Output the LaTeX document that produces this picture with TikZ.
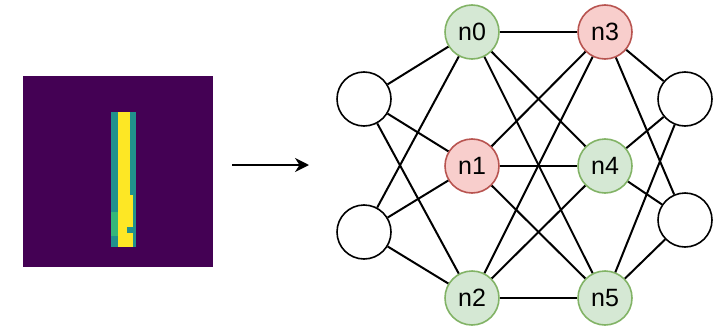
\documentclass[tikz,border=0pt]{standalone}
\usepackage{fontspec}
\setmainfont{Liberation Sans}
\usetikzlibrary{arrows.meta}
\definecolor{vpurple}{HTML}{440154}
\definecolor{vteal}{HTML}{21918C}
\definecolor{vgreen}{HTML}{35B779}
\definecolor{vyellow}{HTML}{FDE725}
\definecolor{gfill}{HTML}{D5E8D4}
\definecolor{gline}{HTML}{82B366}
\definecolor{rfill}{HTML}{F8CECC}
\definecolor{rline}{HTML}{B85450}
\tikzset{
  neuron/.style={circle, minimum size=54pt, inner sep=0pt, line width=1.6pt, font=\fontsize{25}{25}\selectfont},
  plain/.style={neuron, draw=black, fill=white},
  green/.style={neuron, draw=gline, fill=gfill},
  red/.style={neuron, draw=rline, fill=rfill},
  link/.style={draw=black, line width=2pt},
  flow/.style={draw=black, line width=2pt, -{Stealth[length=14pt,width=14pt]}}
}
\begin{document}
\begin{tikzpicture}[x=1pt,y=-1pt]
\useasboundingbox (0,0) rectangle (725,332);
% input image
\fill[vpurple] (23,76) rectangle (213,267);
\fill[vteal] (110.7,111.7) rectangle (136,246.7);
\fill[vyellow] (117.5,111.7) rectangle (130,246.7);
\fill[vyellow] (117.5,195) rectangle (133,246.7);
\fill[vgreen] (110.7,212) rectangle (117.5,236);
\fill[vteal] (127,227) rectangle (133,233);
\coordinate (imgR) at (232,165);
\coordinate (netL) at (309,165);
\draw[flow] (imgR) -- (netL);
% nodes
\node[plain] (L1) at (364,99) {};
\node[plain] (L2) at (364,232) {};
\node[green] (n0) at (472,32) {n0};
\node[red]   (n1) at (472,166) {n1};
\node[green] (n2) at (472,298) {n2};
\node[red]   (n3) at (605,32) {n3};
\node[green] (n4) at (605,166) {n4};
\node[green] (n5) at (605,298) {n5};
\node[plain] (R1) at (685,99) {};
\node[plain] (R2) at (685,220) {};
% edges
\foreach \a in {L1,L2} \foreach \b in {n0,n1,n2} \draw[link] (\a) -- (\b);
\foreach \a in {n0,n1,n2} \foreach \b in {n3,n4,n5} \draw[link] (\a) -- (\b);
\foreach \a in {n3,n4,n5} \foreach \b in {R1,R2} \draw[link] (\a) -- (\b);
\end{tikzpicture}
\end{document}
